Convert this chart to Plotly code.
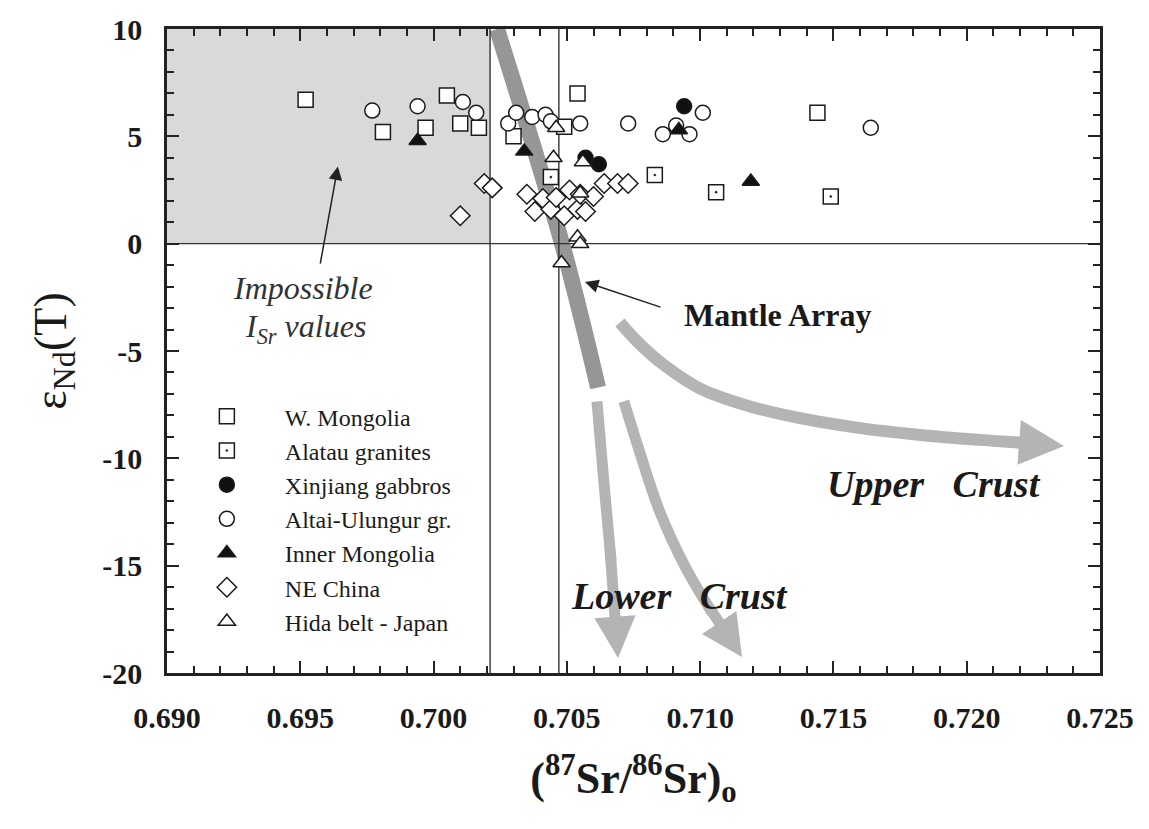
import plotly.graph_objects as go

SERIF = "Liberation Serif, Times New Roman, serif"

# ---------------- axis ticks ----------------
x_tick_vals = [0.690, 0.695, 0.700, 0.705, 0.710, 0.715, 0.720, 0.725]
x_tick_text = ["0.690", "0.695", "0.700", "0.705", "0.710", "0.715", "0.720", "0.725"]
y_tick_vals = [-20, -15, -10, -5, 0, 5, 10]
y_tick_text = ["-20", "-15", "-10", "-5", "0", "5", "10"]

# ---------------- data series ----------------
wm_x = [0.6952, 0.6981, 0.6997, 0.7005, 0.7010, 0.7017, 0.7030, 0.7049, 0.7054, 0.7144]
wm_y = [6.7, 5.2, 5.4, 6.9, 5.6, 5.4, 5.0, 5.45, 7.0, 6.1]

alatau_x = [0.7044, 0.7083, 0.7106, 0.7149]
alatau_y = [3.1, 3.2, 2.4, 2.2]

xinj_x = [0.7057, 0.7062, 0.7094]
xinj_y = [4.0, 3.7, 6.4]

altai_x = [0.6977, 0.6994, 0.7011, 0.7016, 0.7028, 0.7031, 0.7037, 0.7042, 0.7044,
           0.7055, 0.7073, 0.7086, 0.7091, 0.7096, 0.7101, 0.7164]
altai_y = [6.2, 6.4, 6.6, 6.1, 5.6, 6.1, 5.9, 6.0, 5.7, 5.6, 5.6, 5.1, 5.5, 5.1, 6.1, 5.4]

inner_x = [0.6994, 0.7034, 0.7092, 0.7119]
inner_y = [4.8, 4.3, 5.3, 2.9]

nechina_x = [0.7010, 0.7019, 0.7022, 0.7035, 0.7038, 0.7041, 0.7044, 0.7046, 0.7049,
             0.7051, 0.7054, 0.7055, 0.7057, 0.7060, 0.7064, 0.7069, 0.7073]
nechina_y = [1.3, 2.8, 2.6, 2.3, 1.5, 2.1, 1.6, 2.15, 1.3, 2.5, 1.6, 2.3, 1.5, 2.2, 2.8, 2.8, 2.8]

hida_x = [0.7045, 0.7046, 0.7056, 0.7055, 0.7054, 0.7055, 0.7048]
hida_y = [4.0, 5.4, 3.8, 2.35, 0.3, 0.0, -0.9]

# ---------------- reference features ----------------
isr_limit = 0.70212
bulk_earth = 0.7047
impossible_x = [0.690, 0.70212]
impossible_y = [0, 10]

mantle_x = [0.70238, 0.70482, 0.70617]
mantle_y = [10, 0.0, -6.7]

lower1_x = [0.70613, 0.70639, 0.70666, 0.70692]
lower1_y = [-7.35, -11.12, -14.80, -19.3]

lower2_x = [0.70714, 0.70774, 0.70849, 0.70943, 0.71045, 0.71157]
lower2_y = [-7.35, -9.74, -12.50, -15.03, -17.19, -19.25]

upper_x = [0.70699, 0.70774, 0.70868, 0.71000, 0.71187, 0.71375, 0.71600,
           0.71825, 0.72050, 0.72275, 0.72365]
upper_y = [-3.67, -4.68, -5.69, -6.75, -7.58, -8.13, -8.59, -8.91, -9.14, -9.33, -9.42]

ARROW_GRAY = "#b4b4b4"

fig = go.Figure()

# shaded "impossible" region
fig.add_shape(type="rect", xref="x", yref="y",
              x0=impossible_x[0], x1=impossible_x[1], y0=impossible_y[0], y1=impossible_y[1],
              fillcolor="#d9d9d9", line=dict(width=0), layer="below")

# mantle array band
fig.add_trace(go.Scatter(x=mantle_x, y=mantle_y, mode="lines",
                         line=dict(color="#969696", width=16, shape="spline"),
                         showlegend=False, hoverinfo="skip"))

ann = []


def add_arrow(xs, ys, width):
    # curved body up to the second-to-last point; straight head segment as an
    # annotation arrow whose tail starts a little before the body's end (no seam)
    fig.add_trace(go.Scatter(x=xs[:-1], y=ys[:-1], mode="lines",
                             line=dict(color=ARROW_GRAY, width=width, shape="spline"),
                             showlegend=False, hoverinfo="skip"))
    tx = xs[-2] - 0.15 * (xs[-2] - xs[-3])
    ty = ys[-2] - 0.15 * (ys[-2] - ys[-3])
    ann.append(dict(x=xs[-1], y=ys[-1], ax=tx, ay=ty, xref="x", yref="y",
                    axref="x", ayref="y", text="", showarrow=True, arrowhead=2,
                    arrowsize=0.75, arrowwidth=width, arrowcolor=ARROW_GRAY))


add_arrow(lower1_x, lower1_y, 11)
add_arrow(lower2_x, lower2_y, 11)
add_arrow(upper_x, upper_y, 12)

# reference lines
line_style = dict(color="#333333", width=1.4)
fig.add_trace(go.Scatter(x=[isr_limit, isr_limit], y=[-20, 10], mode="lines",
                         line=line_style, showlegend=False, hoverinfo="skip"))
fig.add_trace(go.Scatter(x=[bulk_earth, bulk_earth], y=[-20, 10], mode="lines",
                         line=line_style, showlegend=False, hoverinfo="skip"))
fig.add_trace(go.Scatter(x=[0.690, 0.725], y=[0, 0], mode="lines",
                         line=line_style, showlegend=False, hoverinfo="skip"))

MS = 15
edge = dict(color="#1a1a1a", width=1.5)

fig.add_trace(go.Scatter(x=wm_x, y=wm_y, mode="markers", name="W. Mongolia",
                         marker=dict(symbol="square", size=MS, color="white", line=edge)))
# white backing for dotted squares
fig.add_trace(go.Scatter(x=alatau_x, y=alatau_y, mode="markers", showlegend=False,
                         hoverinfo="skip",
                         marker=dict(symbol="square", size=MS, color="white", line=dict(width=0))))
fig.add_trace(go.Scatter(x=alatau_x, y=alatau_y, mode="markers", name="Alatau granites",
                         marker=dict(symbol="square-open-dot", size=MS, color="#1a1a1a",
                                     line=dict(width=1.5))))
fig.add_trace(go.Scatter(x=xinj_x, y=xinj_y, mode="markers", name="Xinjiang gabbros",
                         marker=dict(symbol="circle", size=MS, color="#111111", line=edge)))
fig.add_trace(go.Scatter(x=altai_x, y=altai_y, mode="markers", name="Altai-Ulungur gr.",
                         marker=dict(symbol="circle", size=MS, color="white", line=edge)))
fig.add_trace(go.Scatter(x=inner_x, y=inner_y, mode="markers", name="Inner Mongolia",
                         marker=dict(symbol="triangle-up", size=MS, color="#111111", line=edge)))
fig.add_trace(go.Scatter(x=nechina_x, y=nechina_y, mode="markers", name="NE China",
                         marker=dict(symbol="diamond", size=MS, color="white", line=edge)))
fig.add_trace(go.Scatter(x=hida_x, y=hida_y, mode="markers", name="Hida belt - Japan",
                         marker=dict(symbol="triangle-up", size=MS, color="white", line=edge)))

# ---------------- annotations ----------------
ann.append(dict(x=0.6951, y=-2.05, xref="x", yref="y", text="Impossible", showarrow=False,
                font=dict(family=SERIF, size=32, color="#333333", style="italic")))
ann.append(dict(x=0.6952, y=-3.95, xref="x", yref="y", text="I<sub>Sr</sub> values",
                showarrow=False,
                font=dict(family=SERIF, size=32, color="#333333", style="italic")))
ann.append(dict(x=0.69641, y=3.6, ax=0.69574, ay=-1.0, xref="x", yref="y",
                axref="x", ayref="y", text="", showarrow=True, arrowhead=2,
                arrowsize=1.8, arrowwidth=1.5, arrowcolor="#222222"))
ann.append(dict(x=0.71292, y=-3.30, xref="x", yref="y", text="Mantle Array", showarrow=False,
                font=dict(family=SERIF, size=32, color="#1a1a1a", weight="bold")))
ann.append(dict(x=0.70568, y=-1.78, ax=0.70857, ay=-2.98, xref="x", yref="y",
                axref="x", ayref="y", text="", showarrow=True, arrowhead=2,
                arrowsize=1.8, arrowwidth=1.5, arrowcolor="#222222"))
ann.append(dict(x=0.71877, y=-11.21, xref="x", yref="y", text="Upper\u00a0\u00a0 Crust",
                showarrow=False,
                font=dict(family=SERIF, size=38, color="#1a1a1a", weight="bold", style="italic")))
ann.append(dict(x=0.70924, y=-16.41, xref="x", yref="y", text="Lower\u00a0\u00a0 Crust",
                showarrow=False,
                font=dict(family=SERIF, size=38, color="#1a1a1a", weight="bold", style="italic")))

axis_common = dict(showgrid=False, zeroline=False, showline=True, linecolor="#222222",
                   linewidth=2.5, mirror="allticks", ticks="inside", ticklen=12,
                   tickwidth=2, tickcolor="#222222",
                   tickfont=dict(family=SERIF, size=30, color="#1a1a1a", weight="bold"))

fig.update_layout(
    width=1149, height=829,
    margin=dict(l=167, r=49, t=21, b=156),
    paper_bgcolor="white", plot_bgcolor="white",
    annotations=ann,
    legend=dict(x=0.002, y=0.433, xanchor="left", yanchor="top",
                font=dict(family=SERIF, size=24, color="#1a1a1a"),
                bgcolor="rgba(0,0,0,0)", tracegroupgap=0, itemwidth=106),
    xaxis=dict(range=[0.690, 0.725], tickvals=x_tick_vals, ticktext=x_tick_text,
               minor=dict(dtick=0.001, ticks="inside", ticklen=7, tickwidth=1.5,
                          tickcolor="#222222"),
               ticklabelstandoff=16,
               title=dict(text="<b>(<sup>87</sup>Sr/<sup>86</sup>Sr)<sub>o</sub></b>",
                          font=dict(family=SERIF, size=44, color="#1a1a1a"), standoff=30),
               **axis_common),
    yaxis=dict(range=[-20, 10], tickvals=y_tick_vals, ticktext=y_tick_text,
               minor=dict(dtick=1, ticks="inside", ticklen=7, tickwidth=1.5,
                          tickcolor="#222222"),
               ticklabelstandoff=16,
               title=dict(text="\u03b5<sub>Nd</sub>(T)",
                          font=dict(family=SERIF, size=46, color="#1a1a1a"), standoff=22),
               **axis_common),
)

fig.write_html("out.html")
